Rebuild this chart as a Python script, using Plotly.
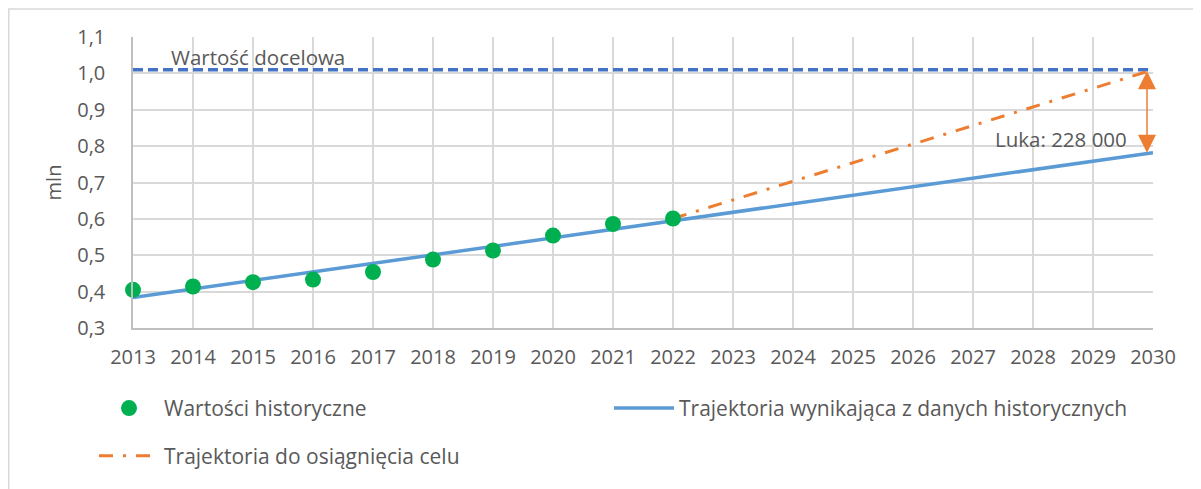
import plotly.graph_objects as go

# ---- data ----
hist_years = [2013, 2014, 2015, 2016, 2017, 2018, 2019, 2020, 2021, 2022]
hist_values = [0.405, 0.414, 0.426, 0.433, 0.454, 0.488, 0.513, 0.554, 0.586, 0.601]

trend_years = [2013, 2030]
trend_values = [0.384, 0.782]

target_path_years = [2022, 2030]
target_path_values = [0.601, 1.01]

target_value = 1.01
target_years = [2013, 2030]

gap_label = "Luka: 228 000"
target_label = "Wartość docelowa"

y_ticks = [0.3, 0.4, 0.5, 0.6, 0.7, 0.8, 0.9, 1.0, 1.1]
y_tick_text = ["0,3", "0,4", "0,5", "0,6", "0,7", "0,8", "0,9", "1,0", "1,1"]
x_ticks = list(range(2013, 2031))

FONT = "Open Sans"
TXT = "#595959"

OFF = 8  # page body margin
W, H = 1201 - OFF, 489 - OFF
L, R, T, B = 133 - OFF, 48, 37 - OFF, 159
pw, ph = W - L - R, H - T - B


def px_x(p):  # page pixel -> paper x
    return (p - OFF - L) / pw


def px_y(p):  # page pixel -> paper y
    return (H - B - (p - OFF)) / ph


fig = go.Figure()

fig.add_trace(go.Scatter(
    x=target_years, y=[target_value] * len(target_years), mode="lines",
    line=dict(color="#4472C4", width=3.5, dash="10px,5px"),
    showlegend=False, hoverinfo="skip", cliponaxis=False))

fig.add_trace(go.Scatter(
    x=trend_years, y=trend_values, mode="lines",
    name="Trajektoria wynikająca z danych historycznych",
    line=dict(color="#5B9BD5", width=3.5), legend="legend3"))

fig.add_trace(go.Scatter(
    x=target_path_years, y=target_path_values, mode="lines",
    name="Trajektoria do osiągnięcia celu",
    line=dict(color="#ED7D31", width=3, dash="14px,10px,3px,10px"),
    legend="legend2"))

fig.add_trace(go.Scatter(
    x=hist_years, y=hist_values, mode="markers",
    name="Wartości historyczne",
    marker=dict(color="#00B050", size=16), cliponaxis=False, legend="legend"))

# arrow for the gap
fig.add_annotation(
    x=2029.9, y=trend_values[-1], ax=2029.9, ay=target_value,
    xref="x", yref="y", axref="x", ayref="y",
    showarrow=True, arrowhead=2, arrowside="end+start", arrowsize=2.4,
    arrowwidth=1.5, arrowcolor="#ED7D31", text="", standoff=0, startstandoff=0)

fig.add_annotation(
    x=2029.6, y=0.82, xref="x", yref="y", text=gap_label, showarrow=False,
    xanchor="right", yanchor="middle",
    font=dict(family=FONT, size=20.5, color=TXT))

fig.add_annotation(
    x=px_x(258), y=1.045, xref="paper", yref="y", text=target_label,
    showarrow=False, xanchor="center", yanchor="middle",
    font=dict(family=FONT, size=20.5, color=TXT))

# outer frame
fig.add_shape(type="rect", xref="paper", yref="paper",
              x0=px_x(OFF + 0.75), x1=px_x(1300), y0=px_y(600),
              y1=px_y(OFF + 0.75),
              line=dict(color="#d9d9d9", width=1.5), layer="below")

legend_common = dict(orientation="h", yanchor="middle", xanchor="left",
                     itemwidth=60, bgcolor="rgba(0,0,0,0)",
                     font=dict(family=FONT, size=21, color=TXT))

fig.update_layout(
    width=W, height=H,
    margin=dict(l=L, r=R, t=T, b=B, pad=0),
    paper_bgcolor="white", plot_bgcolor="white",
    font=dict(family=FONT, size=20, color=TXT),
    xaxis=dict(range=[2013, 2030], tickvals=x_ticks, showgrid=True,
               gridcolor="#d9d9d9", gridwidth=1.5, showline=True,
               linecolor="#bfbfbf", linewidth=1.5, zeroline=False,
               ticks="", ticklabelstandoff=10,
               tickfont=dict(family=FONT, size=20, color=TXT)),
    yaxis=dict(range=[0.3, 1.1], tickvals=y_ticks, ticktext=y_tick_text,
               showgrid=True, gridcolor="#d9d9d9", gridwidth=1.5,
               showline=True, linecolor="#bfbfbf", linewidth=1.5,
               zeroline=False, ticks="", ticklabelstandoff=22,
               title=dict(text="mln", standoff=10,
                          font=dict(family=FONT, size=20, color=TXT)),
               tickfont=dict(family=FONT, size=20, color=TXT)),
    legend=dict(x=px_x(94), y=px_y(411), **legend_common),
    legend2=dict(x=px_x(94), y=px_y(459), **legend_common),
    legend3=dict(x=px_x(609), y=px_y(411), **legend_common),
)

fig.write_html("out.html")
